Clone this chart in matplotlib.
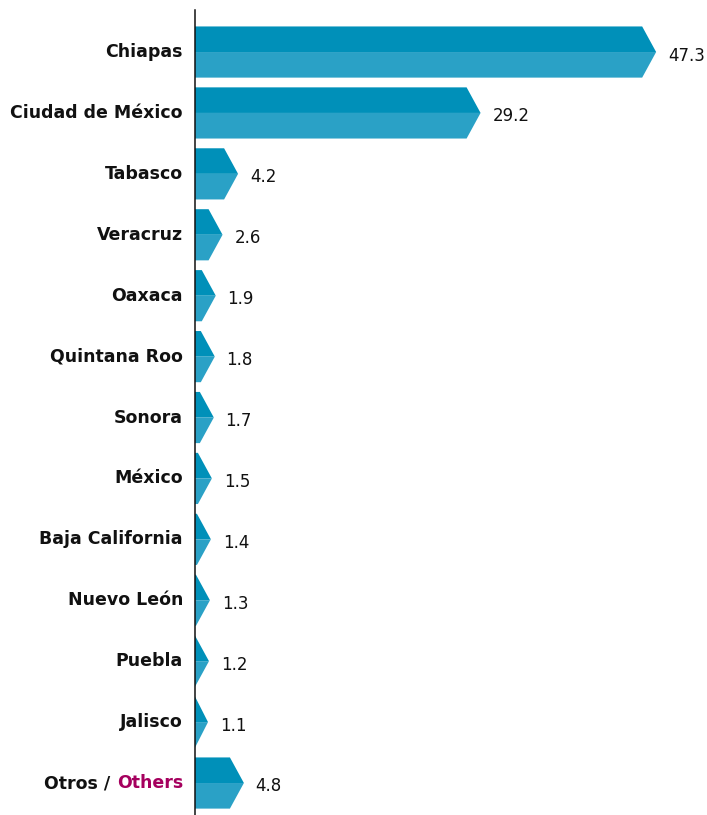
import matplotlib.pyplot as plt
from matplotlib.patches import Polygon
from matplotlib.transforms import blended_transform_factory, offset_copy

estados = ["Chiapas", "Ciudad de México", "Tabasco", "Veracruz", "Oaxaca",
           "Quintana Roo", "Sonora", "México", "Baja California", "Nuevo León",
           "Puebla", "Jalisco", "Otros / Others"]
valores = [47.3, 29.2, 4.2, 2.6, 1.9, 1.8, 1.7, 1.5, 1.4, 1.3, 1.2, 1.1, 4.8]

color_arriba = "#0090b9"
color_abajo = "#2aa1c6"
color_others = "#a5005e"

plt.rcParams['font.family'] = ['DejaVu Sans']

fig = plt.figure(figsize=(7.07, 8.15), dpi=100)
ax = fig.add_axes([195 / 707, 0, 1 - 195 / 707, 1 - 10 / 815])

alto = 0.84
punta = 1.44  # profundidad de la punta de flecha
x0 = -0.24

for i, v in enumerate(valores):
    d = min(punta, v - x0)
    arriba = [(x0, i - alto / 2), (v - d, i - alto / 2), (v, i), (x0, i)]
    abajo = [(x0, i), (v, i), (v - d, i + alto / 2), (x0, i + alto / 2)]
    ax.add_patch(Polygon(arriba, closed=True, facecolor=color_arriba, edgecolor='none'))
    ax.add_patch(Polygon(abajo, closed=True, facecolor=color_abajo, edgecolor='none'))
    ax.annotate(f"{v}", xy=(v, i), xytext=(8.5, -2.5), textcoords='offset points',
                ha='left', va='center', fontsize=12, color='#111111')

trans = offset_copy(blended_transform_factory(ax.transAxes, ax.transData),
                    fig=fig, x=-12, y=0, units='dots')
for i, nombre in enumerate(estados[:-1]):
    ax.text(0, i, nombre, transform=trans, ha='right', va='center',
            fontsize=12.5, fontweight='bold', color='#111111')

t = ax.text(0, len(estados) - 1, "Others", transform=trans, ha='right', va='center',
            fontsize=12.5, fontweight='bold', color=color_others)
ax.annotate("Otros / ", xy=(0, 0), xycoords=t, ha='right', va='bottom',
            fontsize=12.5, fontweight='bold', color='#111111')

ax.set_xlim(x0, x0 + 512 / 9.7)
ax.set_ylim(12.525, -0.69)
for s in ['top', 'right', 'bottom']:
    ax.spines[s].set_visible(False)
ax.spines['left'].set_position(('data', x0))
ax.spines['left'].set_color('#111111')
ax.spines['left'].set_linewidth(1.1)
ax.set_xticks([])
ax.set_yticks([])

fig.savefig("out.png", dpi=100)
